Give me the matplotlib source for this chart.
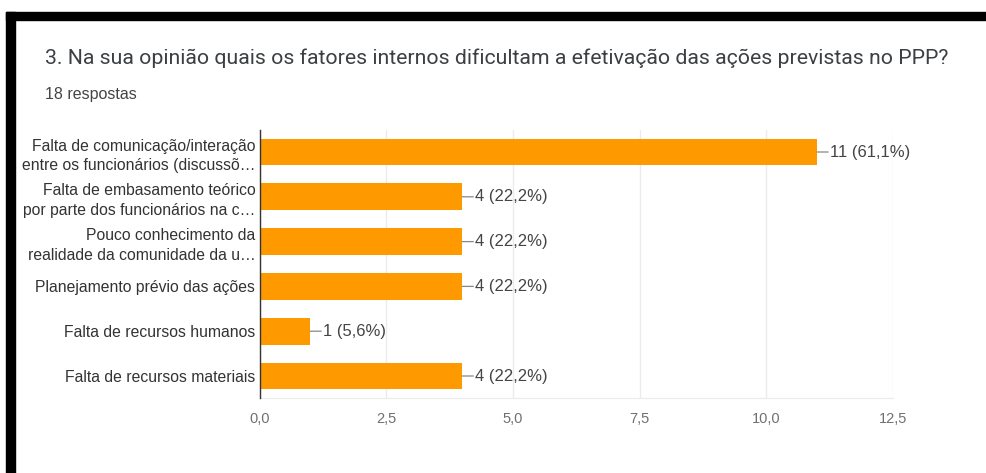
import matplotlib
matplotlib.use("Agg")
import matplotlib.pyplot as plt
from matplotlib.patches import Rectangle

# Survey answers (18 responses)
categories = [
    "Falta de comunicação/interação\nentre os funcionários (discussõ…",
    "Falta de embasamento teórico\npor parte dos funcionários na c…",
    "Pouco conhecimento da\nrealidade da comunidade da u…",
    "Planejamento prévio das ações",
    "Falta de recursos humanos",
    "Falta de recursos materiais",
]
counts = [11, 4, 4, 4, 1, 4]
percents = ["61,1%", "22,2%", "22,2%", "22,2%", "5,6%", "22,2%"]
xticks = [0.0, 2.5, 5.0, 7.5, 10.0, 12.5]
xtick_labels = ["0,0", "2,5", "5,0", "7,5", "10,0", "12,5"]

title = "3. Na sua opinião quais os fatores internos dificultam a efetivação das ações previstas no PPP?"
subtitle = "18 respostas"

W, H = 987, 473
fig = plt.figure(figsize=(W / 100, H / 100), dpi=100)
fig.patch.set_facecolor("white")

label_font = ["Liberation Sans", "DejaVu Sans"]
title_font = ["Roboto", "DejaVu Sans"]

# Axes placed in pixel terms
left_px, right_px = 259.5, 893.0
top_px, bottom_px = 129.6, 398.4
ax = fig.add_axes([left_px / W, 1 - bottom_px / H,
                   (right_px - left_px) / W, (bottom_px - top_px) / H])

y = list(range(len(categories)))
ax.barh(y, counts, height=0.6, color="#ff9900", zorder=3)
ax.set_ylim(len(categories) - 0.5, -0.5)
ax.set_xlim(0, 12.5)

ax.set_xticks(xticks)
ax.set_xticklabels(xtick_labels, family=label_font, fontsize=10.5, color="#707070")
ax.set_yticks(y)
ax.set_yticklabels(categories, family=label_font, fontsize=11.3, color="#333333",
                   linespacing=1.4)
ax.tick_params(axis="both", length=0)
ax.tick_params(axis="y", pad=3)
ax.tick_params(axis="x", pad=10)

ax.grid(axis="x", color="#ebebeb", linewidth=1, zorder=0)
for side in ["top", "right"]:
    ax.spines[side].set_visible(False)
ax.spines["bottom"].set_color("#ebebeb")
ax.spines["left"].set_color("#333333")
ax.spines["left"].set_linewidth(1)
ax.spines["left"].set_zorder(4)

# Value annotations with a short leader line
for yi, c, p in zip(y, counts, percents):
    ax.annotate("", xy=(c, yi), xytext=(c + 0.22, yi),
                arrowprops=dict(arrowstyle="-", color="#888888", lw=0.9,
                                shrinkA=0, shrinkB=0))
    ax.text(c + 0.25, yi, f"{c} ({p})", va="center", ha="left",
            family=label_font, fontsize=12, color="#444444")

fig.text(45 / W, 1 - 58 / H, title, family=title_font, fontsize=15.3,
         color="#3c4043", va="center", ha="left")
fig.text(45 / W, 1 - 94 / H, subtitle, family=label_font, fontsize=11.5,
         color="#444444", va="center", ha="left")

# Heavy frame along the top and left edges
fig.patches.append(Rectangle((6 / W, 1 - 20 / H), (W - 6) / W, 8 / H,
                             transform=fig.transFigure, color="black", zorder=10))
fig.patches.append(Rectangle((6 / W, 0), 9 / W, 1 - 12 / H,
                             transform=fig.transFigure, color="black", zorder=10))

fig.savefig("out.png", dpi=100, facecolor="white")
